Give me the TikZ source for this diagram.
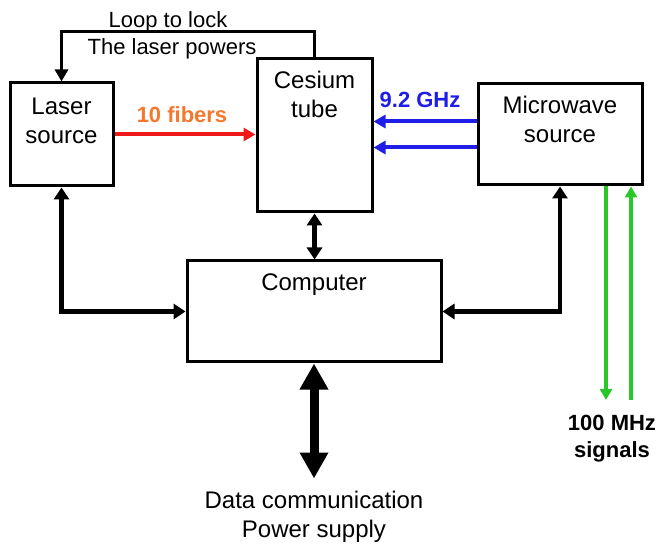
\documentclass[tikz,border=0pt]{standalone}
\usepackage{fontspec}
\setmainfont{Liberation Sans}
\usetikzlibrary{arrows.meta, positioning}

\definecolor{fibred}{RGB}{240,25,25}
\definecolor{fiborange}{RGB}{245,120,45}
\definecolor{rfblue}{RGB}{30,30,230}
\definecolor{siggreen}{RGB}{40,200,40}

\begin{document}
\begin{tikzpicture}[x=0.5pt, y=-0.5pt,
    box/.style={draw, line width=1.5pt, inner sep=0pt},
    boxtext/.style={font=\fontsize{12}{14.5}\selectfont, align=center, inner sep=0pt},
    note/.style={font=\fontsize{11}{13}\selectfont, inner sep=0pt, anchor=base},
    tag/.style={font=\fontsize{11}{13.5}\selectfont\bfseries, align=center, inner sep=0pt},
    link/.style={line width=2.2pt, {Triangle[length=6pt,width=7.5pt]}-{Triangle[length=6pt,width=7.5pt]}},
    lockloop/.style={line width=1.9pt, -{Triangle[length=6pt,width=6.5pt]}},
    fiber/.style={fibred, line width=2pt, -{Triangle[length=6pt,width=6.5pt]}},
    rf/.style={rfblue, line width=2pt, -{Triangle[length=6pt,width=6.5pt]}},
    sig/.style={siggreen, line width=2pt, -{Triangle[length=5.5pt,width=6pt]}},
    bus/.style={line width=4.5pt, {Triangle[length=13pt,width=13.5pt]}-{Triangle[length=13pt,width=13.5pt]}}
]
    \useasboundingbox (0,0) rectangle (657,544);

    % Blöcke
    \node[box, minimum width=51.5pt, minimum height=51.5pt] (laser) at (61.5,134.5) {};
    \node[box, minimum width=57.5pt, minimum height=76.5pt] (cesium) at (314.5,135.5) {};
    \node[box, minimum width=82pt, minimum height=50.5pt] (microwave) at (560,134.5) {};
    \node[box, minimum width=127pt, minimum height=50.5pt] (computer) at (314,311.5) {};

    \node[boxtext, below=8pt of laser.north] (lasertxt) {Laser\\source};
    \node[boxtext, below=6.5pt of cesium.north] (cesiumtxt) {Cesium\\tube};
    \node[boxtext, below=6.5pt of microwave.north] (microwavetxt) {Microwave\\source};
    \node[boxtext, below=7pt of computer.north] (computertxt) {Computer};

    % Regelschleife Laserleistung
    \draw[lockloop] (cesium.north) -- ++(0,-26) -| (laser.north);
    \node[note] (looptxt) at (168,28) {Loop to lock};
    \node[note] (powertxt) at (172,55) {The laser powers};

    % Fasern und Mikrowelle
    \draw[fiber] (laser.east) -- (laser.east -| cesium.west)
        node[midway, above=5pt, xshift=-1.5pt, inner sep=0pt, text=fiborange,
             font=\fontsize{11}{13}\selectfont\bfseries] (fibertxt) {10 fibers};
    \draw[rf] ([yshift=6.5pt]microwave.west) -- ([yshift=6.5pt]microwave.west -| cesium.east)
        node[midway, above=6pt, xshift=-2.5pt, inner sep=0pt, text=rfblue,
             font=\fontsize{11}{13}\selectfont\bfseries] (rftxt) {9.2 GHz};
    \draw[rf] ([yshift=-6.5pt]microwave.west) -- ([yshift=-6.5pt]microwave.west -| cesium.east);

    % Verbindungen zum Rechner
    \draw[link] (laser.south) |- (computer.west);
    \draw[link] (microwave.south) |- (computer.east);
    \draw[link] (cesium.south) -- (cesium.south |- computer.north);

    % 100 MHz Ausgänge
    \coordinate (sigout) at (606,400);
    \coordinate (sigin) at (631,400);
    \draw[sig] (microwave.south -| sigout) -- (sigout);
    \draw[sig] (sigin) -- (sigin |- microwave.south);
    \node[tag, below=7.5pt of sigout, xshift=3pt] (sigtxt) {100 MHz\\signals};

    % Daten / Versorgung
    \draw[bus] (computer.south) -- ++(0,115) coordinate (busend);
    \node[boxtext, below=6pt of busend] (bustxt) {Data communication\\Power supply};
\end{tikzpicture}
\end{document}
